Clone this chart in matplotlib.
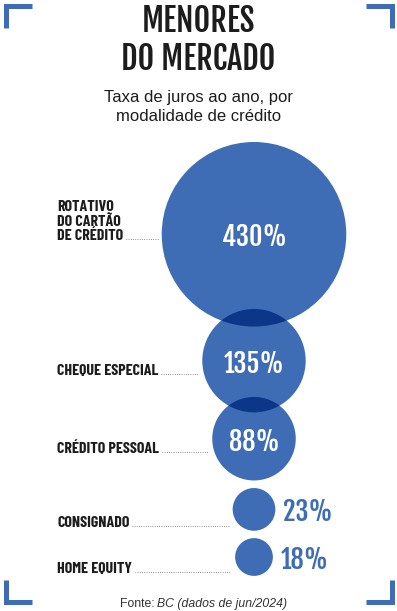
import matplotlib
matplotlib.use('Agg')
import matplotlib.pyplot as plt
from matplotlib.patches import Circle
import numpy as np

# data
categories = [['ROTATIVO', 'DO CARTÃO', 'DE CRÉDITO'],
              ['CHEQUE ESPECIAL'],
              ['CRÉDITO PESSOAL'],
              ['CONSIGNADO'],
              ['HOME EQUITY']]
rates = [430, 135, 88, 23, 18]
value_labels = ['430%', '135%', '88%', '23%', '18%']

title_lines = ['MENORES', 'DO MERCADO']
subtitle_lines = ['Taxa de juros ao ano, por', 'modalidade de crédito']

BLUE = '#3e6db5'
DARK = '#0c3688'
INK = '#1c1c1c'
HEAD = 'Fjalla One'
COND = 'Barlow Condensed'
SANS = 'Liberation Sans'

# layout in pixels
W, H = 397, 611
scale = 4.45          # radius per sqrt(rate) -> area proportional
cx = 254
top = 142
gaps = [-17.6, -15.4, 7.6, 7.4]
label_drop = [6, 14, 14, 18, 16]
label_x = 57
line_step = 14.5

radii = scale * np.sqrt(np.array(rates, dtype=float))
centers = []
y = top
for i, r in enumerate(radii):
    if i > 0:
        y += gaps[i - 1]
    centers.append(y + r)
    y += 2 * r

fig = plt.figure(figsize=(W / 100, H / 100), dpi=100)
ax = fig.add_axes([0, 0, 1, 1])
ax.set_xlim(0, W)
ax.set_ylim(H, 0)
ax.axis('off')

# corner brackets
arm, lw = 26, 3.6
for (x0, y0, dx, dy) in [(5.5, 5.5, 1, 1), (391.5, 5.5, -1, 1),
                         (5.5, 602, 1, -1), (391.5, 602, -1, -1)]:
    ax.plot([x0 + dx * arm, x0, x0], [y0, y0, y0 + dy * 22], color=BLUE,
            lw=lw, solid_joinstyle='miter', solid_capstyle='butt')

# title
ax.text(W / 2, 32, title_lines[0], ha='center', va='baseline', family=HEAD,
        fontsize=23, color=INK)
ax.text(W / 2, 70, title_lines[1], ha='center', va='baseline', family=HEAD,
        fontsize=23, color=INK)
ax.text(W / 2, 102, subtitle_lines[0], ha='center', va='baseline', family=SANS,
        fontsize=12, color=INK)
ax.text(W / 2, 121, subtitle_lines[1], ha='center', va='baseline', family=SANS,
        fontsize=12, color=INK)

# circles
patches = []
for c, r in zip(centers, radii):
    p = Circle((cx, c), r, color=BLUE, lw=0, zorder=2)
    ax.add_patch(p)
    patches.append(p)
# darker overlaps
for i in range(len(patches) - 1):
    c0, r0 = centers[i], radii[i]
    c1, r1 = centers[i + 1], radii[i + 1]
    if c1 - c0 < r0 + r1:
        ov = Circle((cx, c1), r1, color=DARK, lw=0, zorder=3)
        ax.add_patch(ov)
        ov.set_clip_path(patches[i])

# values
for c, r, lab in zip(centers, radii, value_labels):
    if r > 30:
        ax.text(cx, c + 12, lab, ha='center', va='baseline', family=HEAD,
                fontsize=19, color='white', zorder=4)
    else:
        ax.text(cx + r + 8, c + 12, lab, ha='left', va='baseline', family=HEAD,
                fontsize=19, color=BLUE, zorder=4)

# category labels with dotted leaders
fig.canvas.draw()
renderer = fig.canvas.get_renderer()
inv = ax.transData.inverted()
for lines, c, r, drop in zip(categories, centers, radii, label_drop):
    base = c + drop
    n = len(lines)
    last = None
    for k, line in enumerate(lines):
        last = ax.text(label_x, base - (n - 1 - k) * line_step, line, ha='left',
                       va='baseline', family=COND, weight='bold',
                       fontsize=11.5, color=INK)
    bb = last.get_window_extent(renderer)
    x_end_text = inv.transform((bb.x1, bb.y0))[0]
    x_stop = min(cx - r - 4, 232)
    ax.plot([x_end_text + 3, x_stop], [base - 1, base - 1], color='#666666',
            lw=0.7, linestyle=(0, (0.7, 1.6)))

# source
ax.text(155, 607, 'Fonte:', ha='right', va='baseline', family=SANS,
        fontsize=8.8, color='#333333')
ax.text(157, 607, 'BC (dados de jun/2024)', ha='left', va='baseline',
        family=SANS, style='italic', fontsize=8.8, color='#333333')

fig.savefig('out.png', dpi=100, facecolor='white')
